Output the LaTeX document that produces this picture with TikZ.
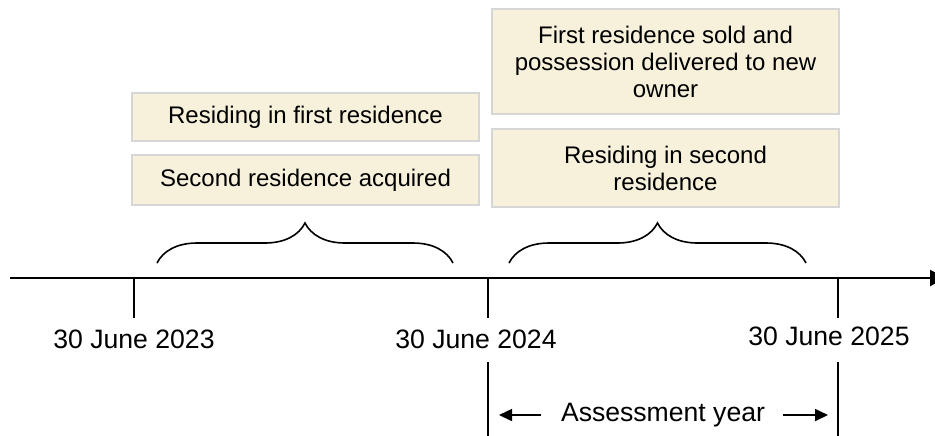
\documentclass[tikz,border=0pt]{standalone}
\usepackage{fontspec}
\setmainfont{Liberation Sans}
\usetikzlibrary{arrows.meta,decorations.pathreplacing}
\definecolor{boxfill}{HTML}{F7F1DC}
\definecolor{boxline}{HTML}{D6D6D6}
\tikzset{
  event/.style={draw=boxline, line width=1pt, fill=boxfill, align=center,
    minimum width=173.5pt, inner sep=0pt, font=\fontsize{12}{13.5}\selectfont},
  date/.style={font=\fontsize{13.3}{15}\selectfont},
  tick/.style={line width=0.8pt},
  span/.style={line width=0.8pt, decorate, decoration={brace, amplitude=20pt, aspect=0.5}}
}
\begin{document}
\begin{tikzpicture}[x=0.5pt, y=-0.5pt]
  \useasboundingbox (0,0) rectangle (935,435);
  % time axis
  \coordinate (start) at (10,278);
  \coordinate (finish) at (946,278);
  \draw [line width=1pt, -{Triangle[length=8pt,width=8pt]}] (start) -- (finish);
  \coordinate (T1) at (134,278);
  \coordinate (T2) at (488,278);
  \coordinate (T3) at (838,278);
  \draw [tick] (T1) -- ++(0,40);
  \draw [tick] (T2) -- ++(0,40);
  \draw [tick] (T3) -- ++(0,40);
  \node [date] (d1) at (134,339) {30 June 2023};
  \node [date] (d2) at (476,339) {30 June 2024};
  \node [date] (d3) at (829,336) {30 June 2025};
  % assessment year
  \coordinate (Y1) at (488,362);
  \coordinate (Y2) at (838,362);
  \draw [tick] (Y1) -- ++(0,75);
  \draw [tick] (Y2) -- ++(0,75);
  \node [date] (ay) at (663,415) {Assessment year};
  \draw [line width=0.8pt, -{Triangle[length=6.5pt,width=6pt]}] (ay.center) ++(-122,0) -- ++(-42,0);
  \draw [line width=0.8pt, -{Triangle[length=6.5pt,width=6pt]}] (ay.center) ++(120,0) -- ++(45,0);
  % events
  \node [event, minimum height=24pt] (firstres) at (305.5,117) {Residing in first residence};
  \node [event, minimum height=25pt] (acquired) at (305.5,180) {Second residence acquired};
  \node [event, minimum height=52.5pt] (sold) at (665.5,61.5)
    {First residence sold and\\possession delivered to new\\owner};
  \node [event, minimum height=39pt] (secondres) at (665.5,168) {Residing in second\\residence};
  % braces
  \draw [span] (157,263) -- (453,263);
  \draw [span] (509,263) -- (806,263);
\end{tikzpicture}
\end{document}
